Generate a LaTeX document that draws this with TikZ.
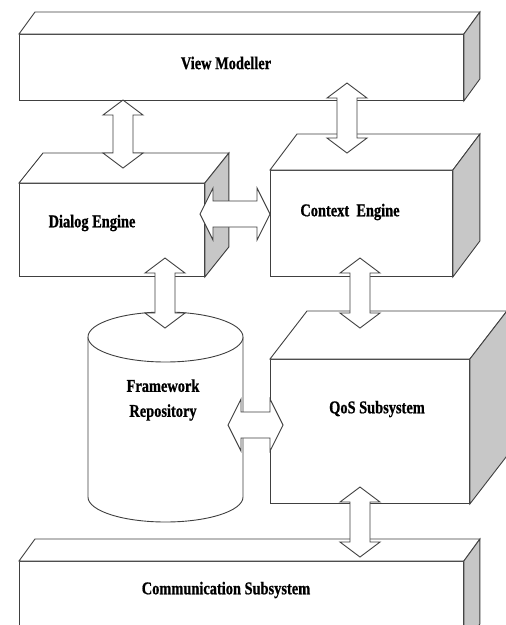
\documentclass[tikz,border=0pt]{standalone}
\usepackage{fontspec}
\newfontfamily\lblfont{Liberation Serif}[FakeStretch=0.8, BoldFeatures={FakeStretch=0.8, FakeBold=0.8}]
\usetikzlibrary{calc}

\tikzset{
  edge/.style={draw=black!75, line width=0.9pt, line join=miter},
  frontface/.style={edge, fill=white, inner sep=0pt},
  topface/.style={edge, fill=white},
  sideface/.style={edge, fill=black!22},
  blockarrow/.style={edge, fill=white},
  lbl/.style={font=\lblfont\bfseries\fontsize{18}{25}\selectfont, align=center, inner sep=0pt},
}

% box drawn as a front face node plus a top and a right face
% #1 name, #2,#3 top-left corner, #4,#5 bottom-right corner, #6 depth offset
\newcommand{\cuboid}[6]{%
  \node[frontface, anchor=north west, minimum width={(#4-#2)*1pt},
        minimum height={(#5-#3)*1pt}] (#1) at (#2,#3) {};
  \draw[topface] (#1.north west) -- ++(#6) -- ($(#1.north east)+(#6)$)
        -- (#1.north east) -- cycle;
  \draw[sideface] (#1.north east) -- ++(#6) -- ($(#1.south east)+(#6)$)
        -- (#1.south east) -- cycle;
}

% vertical two-headed block arrow between a top tip and a bottom tip
\newcommand{\vdarrow}[2]{%
  \draw[blockarrow] let \p1=(#1), \p2=(#2) in
    (\x1,\y1) -- (\x1+20pt,\y1-15pt) -- (\x1+10pt,\y1-15pt)
    -- (\x1+10pt,\y2+15pt) -- (\x1+20pt,\y2+15pt) -- (\x1,\y2)
    -- (\x1-20pt,\y2+15pt) -- (\x1-10pt,\y2+15pt)
    -- (\x1-10pt,\y1-15pt) -- (\x1-20pt,\y1-15pt) -- cycle;
}

% horizontal two-headed block arrow between a left tip and a right tip
\newcommand{\hdarrow}[2]{%
  \draw[blockarrow] let \p1=(#1), \p2=(#2) in
    (\x1,\y1) -- (\x1+13pt,\y1+26pt) -- (\x1+13pt,\y1+13pt)
    -- (\x2-13pt,\y1+13pt) -- (\x2-13pt,\y1+26pt) -- (\x2,\y1)
    -- (\x2-13pt,\y1-26pt) -- (\x2-13pt,\y1-13pt)
    -- (\x1+13pt,\y1-13pt) -- (\x1+13pt,\y1-26pt) -- cycle;
}

\begin{document}
\begin{tikzpicture}[x=1pt, y=-1pt]
  \fill[white] (0,0) rectangle (506,625);
  \useasboundingbox (0,0) rectangle (506,625);

  \begin{scope}
    \clip (0,0) rectangle (506,625);

    % boxes
    \cuboid{vm}{19}{34}{463}{100}{16,-22}
    \cuboid{dialog}{19}{183}{204}{276}{24,-30}
    \cuboid{context}{270}{170}{452}{276}{27,-36}
    \cuboid{qos}{270}{359}{469}{503}{37,-48}
    \cuboid{comm}{19}{561}{463}{645}{16,-22}

    % framework repository cylinder
    \coordinate (repo) at (165.5,337);
    \draw[edge, fill=white] (88,337) -- (88,497)
      arc[start angle=180, end angle=0, x radius=77.5, y radius=25]
      -- (243,337);
    \draw[edge, fill=white] (repo) ellipse [x radius=77.5, y radius=25];

    % labels
    \node[lbl] (vmtext) at (226,63) {View Modeller};
    \node[lbl] (dialogtext) at (92,223) {Dialog Engine};
    \node[lbl] (contexttext) at (350,212) {Context\ \ Engine};
    \node[lbl] (qostext) at (377,409) {QoS Subsystem};
    \node[lbl] (repotext) at (163,400) {Framework\\Repository};
    \node[lbl] (commtext) at (226,590) {Communication Subsystem};

    % arrow tips
    \coordinate (vmDa) at (123,100);  \coordinate (vmDb) at (123,168);
    \coordinate (vmCa) at (347,83);   \coordinate (vmCb) at (347,153);
    \coordinate (dRa) at (165,258);   \coordinate (dRb) at (165,328);
    \coordinate (cQa) at (360,258);   \coordinate (cQb) at (360,328);
    \coordinate (qCa) at (360,487);   \coordinate (qCb) at (360,557);
    \coordinate (dCa) at (200,214);   \coordinate (dCb) at (270,214);
    \coordinate (rQa) at (228,425);   \coordinate (rQb) at (283,425);

    % connectors
    \vdarrow{vmDa}{vmDb}
    \vdarrow{vmCa}{vmCb}
    \vdarrow{dRa}{dRb}
    \vdarrow{cQa}{cQb}
    \vdarrow{qCa}{qCb}
    \hdarrow{dCa}{dCb}
    \hdarrow{rQa}{rQb}
  \end{scope}
\end{tikzpicture}
\end{document}
